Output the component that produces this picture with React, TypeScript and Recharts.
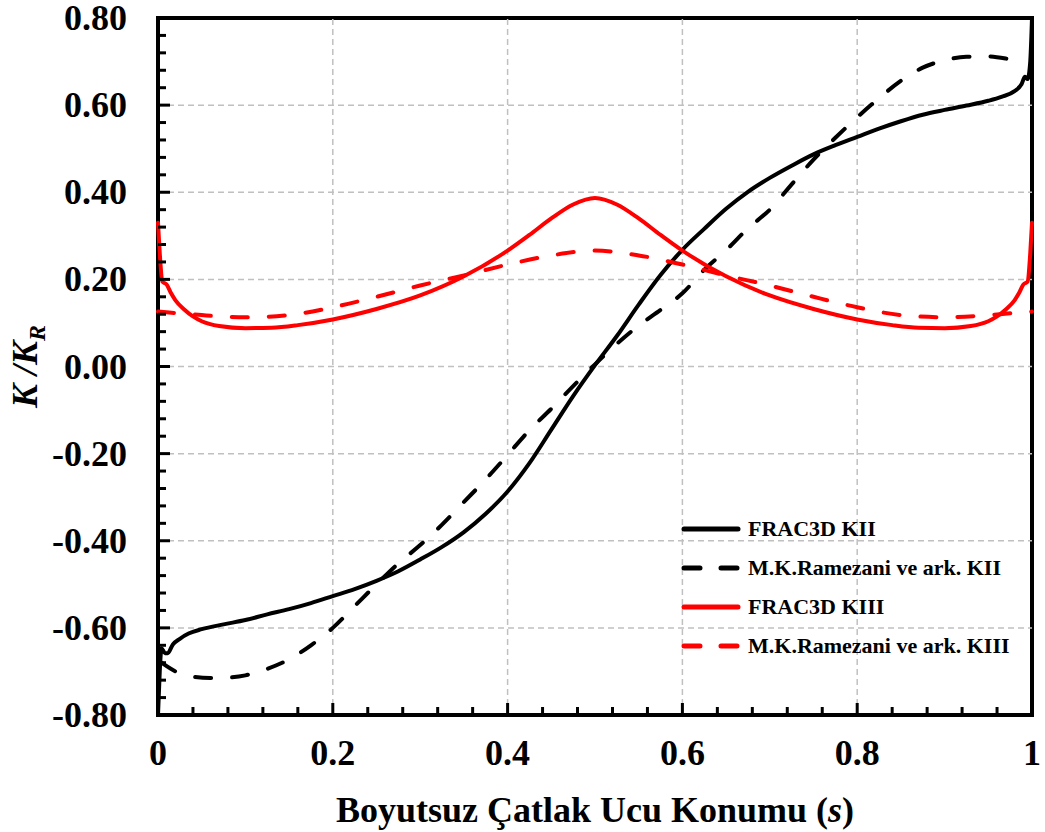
import React from 'react';
import { LineChart, Line, XAxis, YAxis, ReferenceLine, ReferenceArea, Legend } from 'recharts';

// FRAC3D KII (solid black)
const S_FRAC_KII = [0, 0.002, 0.004, 0.008, 0.011, 0.017, 0.025, 0.035, 0.05, 0.075, 0.1, 0.125, 0.15, 0.175, 0.2, 0.225, 0.25, 0.275, 0.3, 0.325, 0.35, 0.375, 0.4, 0.425, 0.45, 0.475, 0.5, 0.525, 0.55, 0.575, 0.6, 0.625, 0.65, 0.675, 0.7, 0.725, 0.75, 0.775, 0.8, 0.825, 0.85, 0.875, 0.9, 0.925, 0.95, 0.965, 0.98, 0.988, 0.992, 0.995, 0.998, 1];
const FRAC_KII = [-0.8, -0.7, -0.647, -0.658, -0.658, -0.638, -0.625, -0.613, -0.603, -0.592, -0.582, -0.569, -0.557, -0.543, -0.527, -0.511, -0.492, -0.47, -0.443, -0.414, -0.38, -0.338, -0.287, -0.222, -0.145, -0.068, 0.003, 0.07, 0.142, 0.21, 0.268, 0.316, 0.362, 0.401, 0.433, 0.461, 0.487, 0.508, 0.527, 0.546, 0.563, 0.578, 0.589, 0.599, 0.61, 0.619, 0.632, 0.648, 0.665, 0.66, 0.7, 0.8];

// M.K.Ramezani ve ark. KII (dashed black)
const S_RAM_KII = [0.004, 0.02, 0.04, 0.06, 0.08, 0.1, 0.125, 0.15, 0.175, 0.2, 0.225, 0.25, 0.275, 0.3, 0.325, 0.35, 0.375, 0.4, 0.425, 0.45, 0.475, 0.5, 0.525, 0.55, 0.575, 0.6, 0.625, 0.65, 0.675, 0.7, 0.725, 0.75, 0.775, 0.8, 0.825, 0.85, 0.875, 0.9, 0.925, 0.95, 0.97, 0.985];
const RAM_KII = [-0.68, -0.7, -0.712, -0.715, -0.714, -0.709, -0.694, -0.672, -0.64, -0.6, -0.55, -0.5, -0.452, -0.41, -0.363, -0.311, -0.259, -0.203, -0.146, -0.097, -0.045, 0.005, 0.052, 0.094, 0.13, 0.168, 0.222, 0.267, 0.317, 0.36, 0.418, 0.475, 0.525, 0.572, 0.616, 0.656, 0.686, 0.703, 0.711, 0.712, 0.707, 0.7];

// FRAC3D KIII (solid red)
const S_FRAC_KIII = [0, 0.002, 0.005, 0.01, 0.015, 0.02, 0.03, 0.04, 0.05, 0.07, 0.1, 0.13, 0.16, 0.2, 0.25, 0.3, 0.35, 0.4, 0.425, 0.45, 0.475, 0.5, 0.525, 0.55, 0.575, 0.6, 0.65, 0.7, 0.75, 0.8, 0.84, 0.87, 0.9, 0.93, 0.95, 0.96, 0.97, 0.98, 0.985, 0.99, 0.995, 0.998, 1];
const FRAC_KIII = [0.33, 0.26, 0.195, 0.188, 0.168, 0.152, 0.131, 0.115, 0.104, 0.093, 0.088, 0.089, 0.095, 0.108, 0.132, 0.163, 0.207, 0.266, 0.302, 0.34, 0.372, 0.387, 0.372, 0.34, 0.302, 0.266, 0.207, 0.163, 0.132, 0.108, 0.095, 0.089, 0.088, 0.093, 0.104, 0.115, 0.131, 0.152, 0.168, 0.188, 0.195, 0.26, 0.33];

// M.K.Ramezani ve ark. KIII (dashed red)
const S_RAM_KIII = [0, 0.025, 0.05, 0.1, 0.15, 0.2, 0.25, 0.3, 0.35, 0.4, 0.45, 0.5, 0.55, 0.6, 0.65, 0.7, 0.75, 0.8, 0.85, 0.9, 0.95, 0.975, 1];
const RAM_KIII = [0.126, 0.122, 0.118, 0.113, 0.118, 0.136, 0.16, 0.186, 0.209, 0.234, 0.255, 0.266, 0.255, 0.234, 0.209, 0.186, 0.16, 0.136, 0.118, 0.113, 0.118, 0.122, 0.126];

const X_MAJOR = [0, 0.2, 0.4, 0.6, 0.8, 1];
const X_LABELS = ['0', '0.2', '0.4', '0.6', '0.8', '1'];
const Y_MAJOR = [-0.8, -0.6, -0.4, -0.2, 0, 0.2, 0.4, 0.6, 0.8];
const Y_LABELS = ['-0.80', '-0.60', '-0.40', '-0.20', '0.00', '0.20', '0.40', '0.60', '0.80'];
const SERIES_NAMES = ['FRAC3D KII', 'M.K.Ramezani ve ark. KII', 'FRAC3D KIII', 'M.K.Ramezani ve ark. KIII'];

const FONT = "'Liberation Serif', 'Times New Roman', serif";
const DASH = '16 21';

const zip = (s: number[], v: number[]) => s.map((x, i) => ({ s: x, v: v[i] }));

// 4 minor ticks between majors
const withMinors = (majors: number[]) => {
  const out: number[] = [];
  majors.forEach((m, i) => {
    out.push(m);
    if (i < majors.length - 1) {
      const step = (majors[i + 1] - m) / 5;
      for (let k = 1; k < 5; k++) out.push(Math.round((m + k * step) * 1000) / 1000);
    }
  });
  return out;
};

const series = [
  { name: SERIES_NAMES[0], data: zip(S_FRAC_KII, FRAC_KII), color: '#000000', dash: undefined },
  { name: SERIES_NAMES[1], data: zip(S_RAM_KII, RAM_KII), color: '#000000', dash: DASH },
  { name: SERIES_NAMES[2], data: zip(S_FRAC_KIII, FRAC_KIII), color: '#ff0000', dash: undefined },
  { name: SERIES_NAMES[3], data: zip(S_RAM_KIII, RAM_KIII), color: '#ff0000', dash: DASH },
];

const Y_GAP = 31;
const X_GAP = 38;

const YTick = ({ x, y, payload }: any) => {
  const idx = Y_MAJOR.findIndex((m) => Math.abs(m - payload.value) < 1e-6);
  const ax = x + Y_GAP;
  return (
    <g>
      <line x1={ax} x2={ax + (idx >= 0 ? 12 : 8)} y1={y} y2={y} stroke="#000" strokeWidth={3} />
      {idx >= 0 && (
        <text x={x} y={y + 12} textAnchor="end" fontFamily={FONT} fontWeight="bold" fontSize={36} fill="#000">
          {Y_LABELS[idx]}
        </text>
      )}
    </g>
  );
};

const XTick = ({ x, y, payload }: any) => {
  const idx = X_MAJOR.findIndex((m) => Math.abs(m - payload.value) < 1e-6);
  const ay = y - X_GAP;
  return (
    <g>
      <line x1={x} x2={x} y1={ay} y2={ay - (idx >= 0 ? 12 : 8)} stroke="#000" strokeWidth={3} />
      {idx >= 0 && (
        <text x={x} y={y} textAnchor="middle" dominantBaseline="central" fontFamily={FONT} fontWeight="bold" fontSize={36} fill="#000">
          {X_LABELS[idx]}
        </text>
      )}
    </g>
  );
};

const YTitle = ({ viewBox }: any) => {
  const cx = (viewBox?.x ?? 0) + 37;
  const cy = (viewBox?.y ?? 18) + (viewBox?.height ?? 697) / 2;
  return (
    <text x={cx} y={cy} transform={`rotate(-90 ${cx} ${cy})`} textAnchor="middle" fontFamily={FONT} fontWeight="bold" fontStyle="italic" fontSize={36} fill="#000">
      <tspan>K /K</tspan>
      <tspan fontSize={24} dy={8}>R</tspan>
    </text>
  );
};

const XTitle = ({ viewBox }: any) => {
  const cx = (viewBox?.x ?? 158) + (viewBox?.width ?? 874) / 2;
  const cy = (viewBox?.y ?? 715) + 95;
  return (
    <text x={cx} y={cy} textAnchor="middle" dominantBaseline="central" fontFamily={FONT} fontWeight="bold" fontSize={36} fill="#000">
      <tspan>Boyutsuz Çatlak Ucu Konumu (</tspan>
      <tspan fontStyle="italic">s</tspan>
      <tspan>)</tspan>
    </text>
  );
};

const renderLegend = () => (
  <div style={{ fontFamily: FONT, fontWeight: 'bold', fontSize: 22, color: '#000' }}>
    {series.map((s) => (
      <div key={s.name} style={{ display: 'flex', alignItems: 'center', height: 39 }}>
        <svg width={62} height={10} style={{ display: 'block' }}>
          <line x1={4} x2={58} y1={5} y2={5} stroke={s.color} strokeWidth={5} strokeLinecap="round" strokeDasharray={s.dash} />
        </svg>
        <span style={{ marginLeft: 6, lineHeight: 1 }}>{s.name}</span>
      </div>
    ))}
  </div>
);

export default function App() {
  return (
    <div style={{ width: 1045, height: 832, background: '#fff' }}>
      <style>{'body{margin:0;background:#fff}'}</style>
      <LineChart width={1045} height={832} margin={{ top: 18, right: 13, bottom: 0, left: 0 }}>
        <XAxis
          dataKey="s"
          type="number"
          domain={[0, 1]}
          ticks={withMinors(X_MAJOR)}
          interval={0}
          axisLine={false}
          tickLine={false}
          tickSize={0}
          tickMargin={X_GAP}
          tick={<XTick />}
          height={117}
          label={{ content: <XTitle /> }}
        />
        <YAxis
          type="number"
          domain={[-0.8, 0.8]}
          ticks={withMinors(Y_MAJOR)}
          interval={0}
          axisLine={false}
          tickLine={false}
          tickSize={0}
          tickMargin={Y_GAP}
          tick={<YTick />}
          width={158}
          label={{ content: <YTitle /> }}
        />
        {X_MAJOR.slice(1, -1).map((v) => (
          <ReferenceLine key={`gx-${v}`} x={v} stroke="#c0c0c0" strokeWidth={1.5} strokeDasharray="6 4" />
        ))}
        {Y_MAJOR.slice(1, -1).map((v) => (
          <ReferenceLine key={`gy-${v}`} y={v} stroke="#c0c0c0" strokeWidth={1.5} strokeDasharray="6 4" />
        ))}
        {series.map((s) => (
          <Line
            key={s.name}
            data={s.data}
            dataKey="v"
            name={s.name}
            type="monotone"
            stroke={s.color}
            strokeWidth={4}
            strokeDasharray={s.dash}
            strokeLinecap="round"
            dot={false}
            activeDot={false}
            isAnimationActive={false}
          />
        ))}
        <ReferenceArea x1={0} x2={1} y1={-0.8} y2={0.8} fill="none" fillOpacity={0} stroke="#000" strokeWidth={4} />
        <Legend
          layout="vertical"
          align="center"
          verticalAlign="middle"
          content={renderLegend}
          wrapperStyle={{ left: 680, top: 509, width: 360 }}
        />
      </LineChart>
    </div>
  );
}
